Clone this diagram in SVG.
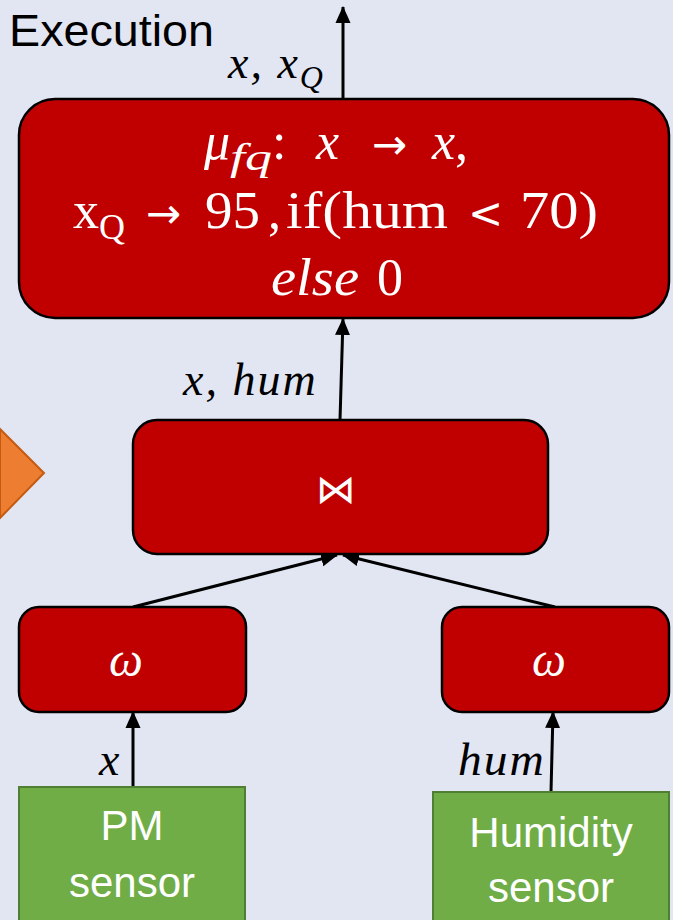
<svg xmlns="http://www.w3.org/2000/svg" width="673" height="920" viewBox="0 0 673 920">
  <defs>
    <marker id="arr" markerUnits="userSpaceOnUse" markerWidth="17" markerHeight="17" viewBox="0 0 17 17" refX="16" refY="8.5" orient="auto">
      <path d="M0,1 L17,8.5 L0,16 Z" fill="#000"/>
    </marker>
    <style>
      .op { fill: #C00000; stroke: #000; stroke-width: 2.5; }
      .src { fill: #70AD47; stroke: #507E32; stroke-width: 2; }
      .edge { stroke: #000; stroke-width: 3; fill: none; marker-end: url(#arr); }
      .math { font-family: "Liberation Serif", "DejaVu Serif", serif; }
      .it { font-style: italic; }
      .wm { fill: #fff; }
      .sans { font-family: "Liberation Sans", Arial, sans-serif; }
      .lbl { fill: #000; font-size: 46px; letter-spacing: 2px; }
      .ar { font-family: "DejaVu Sans", sans-serif; font-style: normal; }
    </style>
  </defs>
  <rect x="0" y="0" width="673" height="920" fill="#E2E5F2"/>

  <g id="arrow-shape">
    <polygon points="0,429 44,473 0,518" fill="#ED7D31" stroke="#C55A11" stroke-width="2"/>
  </g>

  <g id="title">
    <text x="9" y="46" class="sans" font-size="44" fill="#000" textLength="205" lengthAdjust="spacingAndGlyphs">Execution</text>
  </g>

  <g id="connectors">
    <line class="edge" x1="343" y1="99" x2="343" y2="7"/>
    <line class="edge" x1="340" y1="420" x2="343" y2="319"/>
    <line class="edge" x1="133" y1="607" x2="337" y2="555"/>
    <line class="edge" x1="555" y1="607" x2="343" y2="555"/>
    <line class="edge" x1="133" y1="787" x2="133" y2="712"/>
    <line class="edge" x1="551" y1="792" x2="553" y2="712"/>
    <text class="math it lbl" x="228" y="78">x, x<tspan font-size="32" dy="10">Q</tspan></text>
    <text class="math it lbl" x="183" y="395">x, hum</text>
    <text class="math it lbl" x="99" y="775">x</text>
    <text class="math it lbl" x="458" y="775" textLength="88" lengthAdjust="spacingAndGlyphs">hum</text>
  </g>

  <g id="mu">
    <rect class="op" x="19" y="99" width="650" height="219" rx="36" ry="36"/>
    <text class="math wm" font-size="52" y="159"><tspan x="204" font-style="italic">μ</tspan><tspan font-style="italic" font-size="38" dy="11" textLength="42" lengthAdjust="spacingAndGlyphs">fq</tspan><tspan x="272" dy="-11">:</tspan><tspan x="316" font-style="italic">x</tspan><tspan x="372" class="ar" font-size="42">→</tspan><tspan x="432" font-style="italic">x</tspan>,</text>
    <text class="math wm" font-size="52" y="228"><tspan x="73">x</tspan><tspan font-size="36" dy="11">Q</tspan><tspan x="146" dy="-11" class="ar" font-size="42">→</tspan><tspan x="205" textLength="55" lengthAdjust="spacingAndGlyphs">95</tspan><tspan x="268">,</tspan><tspan x="286" textLength="162" lengthAdjust="spacingAndGlyphs">if(hum</tspan><tspan x="468" class="ar" font-size="42">&lt;</tspan><tspan x="520" textLength="78" lengthAdjust="spacingAndGlyphs">70)</tspan></text>
    <text class="math wm" font-size="52" y="295"><tspan x="271" font-style="italic" textLength="88" lengthAdjust="spacingAndGlyphs">else</tspan><tspan x="377">0</tspan></text>
  </g>

  <g id="join">
    <rect class="op" x="133" y="420" width="415" height="134" rx="24" ry="24"/>
    <text x="336" y="503" font-family="DejaVu Sans, sans-serif" font-size="40" fill="#fff" text-anchor="middle">⋈</text>
  </g>

  <g id="window-pm">
    <rect class="op" x="19" y="607" width="227" height="105" rx="20" ry="20"/>
    <text class="math it wm" x="126" y="676" font-size="48" text-anchor="middle">ω</text>
  </g>

  <g id="window-hum">
    <rect class="op" x="442" y="607" width="227" height="105" rx="20" ry="20"/>
    <text class="math it wm" x="549" y="676" font-size="48" text-anchor="middle">ω</text>
  </g>

  <g id="pm-sensor">
    <rect class="src" x="19" y="787" width="226" height="140"/>
    <text class="sans" x="132" y="840" font-size="42" fill="#fff" text-anchor="middle">PM</text>
    <text class="sans" x="132" y="897" font-size="42" fill="#fff" text-anchor="middle">sensor</text>
  </g>

  <g id="humidity-sensor">
    <rect class="src" x="433" y="792" width="236" height="140"/>
    <text class="sans" x="551" y="847" font-size="42" fill="#fff" text-anchor="middle">Humidity</text>
    <text class="sans" x="551" y="902" font-size="42" fill="#fff" text-anchor="middle">sensor</text>
  </g>
</svg>
